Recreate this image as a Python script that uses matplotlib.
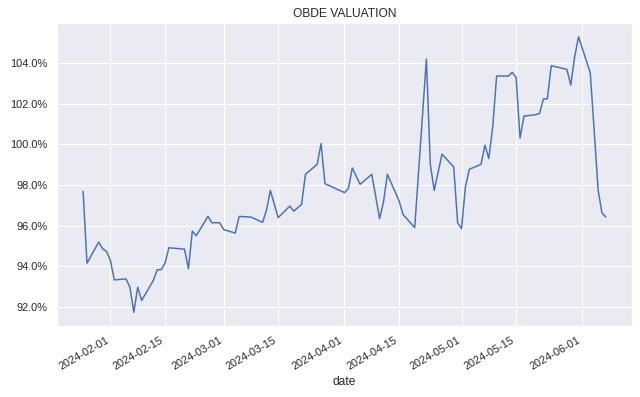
import matplotlib
matplotlib.use("Agg")
import matplotlib.pyplot as plt
import matplotlib.dates as mdates
from matplotlib.ticker import PercentFormatter
import seaborn as sns
import pandas as pd

# valuation (percent)
dates = ["2024-01-25", "2024-01-26", "2024-01-29", "2024-01-30", "2024-01-31",
         "2024-02-01", "2024-02-02", "2024-02-05", "2024-02-06", "2024-02-07",
         "2024-02-08", "2024-02-09", "2024-02-12", "2024-02-13", "2024-02-14",
         "2024-02-15", "2024-02-16", "2024-02-20", "2024-02-21", "2024-02-22",
         "2024-02-23", "2024-02-26", "2024-02-27", "2024-02-29", "2024-03-01",
         "2024-03-04", "2024-03-05", "2024-03-08", "2024-03-11", "2024-03-12",
         "2024-03-13", "2024-03-15", "2024-03-18", "2024-03-19", "2024-03-21",
         "2024-03-22", "2024-03-25", "2024-03-26", "2024-03-27", "2024-04-01",
         "2024-04-02", "2024-04-03", "2024-04-05", "2024-04-08", "2024-04-10",
         "2024-04-11", "2024-04-12", "2024-04-15", "2024-04-16", "2024-04-19",
         "2024-04-22", "2024-04-23", "2024-04-24", "2024-04-26", "2024-04-29",
         "2024-04-30", "2024-05-01", "2024-05-02", "2024-05-03", "2024-05-06",
         "2024-05-07", "2024-05-08", "2024-05-09", "2024-05-10", "2024-05-13",
         "2024-05-14", "2024-05-15", "2024-05-16", "2024-05-17", "2024-05-20",
         "2024-05-21", "2024-05-22", "2024-05-23", "2024-05-24", "2024-05-28",
         "2024-05-29", "2024-05-30", "2024-05-31", "2024-06-03", "2024-06-04",
         "2024-06-05", "2024-06-06", "2024-06-07"]
valuation = [97.68, 94.15, 95.19, 94.86, 94.73,
             94.29, 93.33, 93.38, 92.97, 91.74,
             92.97, 92.32, 93.30, 93.83, 93.83,
             94.15, 94.91, 94.84, 93.88, 95.73,
             95.50, 96.45, 96.14, 96.14, 95.81,
             95.63, 96.45, 96.42, 96.16, 96.75,
             97.73, 96.39, 96.96, 96.71, 97.04,
             98.52, 99.01, 100.03, 98.06, 97.62,
             97.82, 98.83, 98.03, 98.52, 96.34,
             97.16, 98.52, 97.21, 96.55, 95.90,
             104.19, 99.01, 97.73, 99.51, 98.88,
             96.14, 95.85, 97.90, 98.77, 99.01,
             99.95, 99.30, 100.85, 103.35, 103.35,
             103.53, 103.28, 100.30, 101.38, 101.45,
             101.51, 102.23, 102.23, 103.86, 103.68,
             102.91, 104.30, 105.28, 103.51, 100.69,
             97.77, 96.62, 96.42]

sns.set_theme(style="darkgrid")
plt.rcParams['font.family'] = ['Liberation Sans', 'DejaVu Sans']

fig, ax = plt.subplots(figsize=(640 / 72, 397 / 72), dpi=72)

ax.plot(pd.to_datetime(dates), valuation, color="#4c72b0", linewidth=1.5)
ax.set_title("OBDE VALUATION")
ax.set_xlabel("date")
ax.yaxis.set_major_formatter(PercentFormatter(100, decimals=1))
ax.xaxis.set_major_locator(mdates.DayLocator(bymonthday=[1, 15]))
ax.xaxis.set_major_formatter(mdates.DateFormatter("%Y-%m-%d"))
fig.autofmt_xdate()
fig.subplots_adjust(left=0.089, right=0.9875, top=0.942, bottom=0.1788)

fig.savefig("out.png", dpi=72)
